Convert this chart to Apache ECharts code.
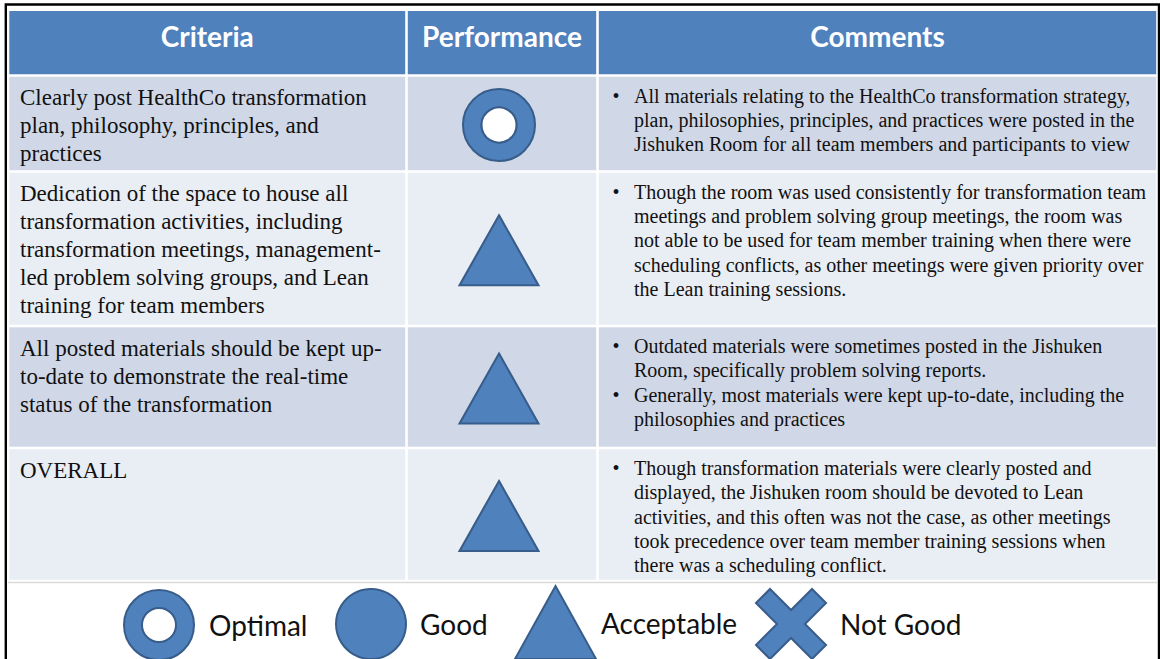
<!DOCTYPE html>
<html>
<head>
<meta charset="utf-8">
<script src="https://cdn.jsdelivr.net/npm/echarts@6/dist/echarts.min.js"></script>
<style>
html,body{margin:0;padding:0;background:#ffffff;}
#chart{width:1160px;height:659px;}
</style>
</head>
<body>
<div id="chart"></div>
<script>
// ---------- DATA ----------
const headers = ['Criteria', 'Performance', 'Comments'];

const criteria = [
  'Clearly post HealthCo transformation\nplan, philosophy, principles, and\npractices',
  'Dedication of the space to house all\ntransformation activities, including\ntransformation meetings, management-\nled problem solving groups, and Lean\ntraining for team members',
  'All posted materials should be kept up-\nto-date to demonstrate the real-time\nstatus of the transformation',
  'OVERALL'
];

const ratings = ['Optimal', 'Acceptable', 'Acceptable', 'Acceptable'];

const comments = [
  ['All materials relating to the HealthCo transformation strategy,\nplan, philosophies, principles, and practices were posted in the\nJishuken Room for all team members and participants to view'],
  ['Though the room was used consistently for transformation team\nmeetings and problem solving group meetings, the room was\nnot able to be used for team member training when there were\nscheduling conflicts, as other meetings were given priority over\nthe Lean training sessions.'],
  ['Outdated materials were sometimes posted in the Jishuken\nRoom, specifically problem solving reports.',
   'Generally, most materials were kept up-to-date, including the\nphilosophies and practices'],
  ['Though transformation materials were clearly posted and\ndisplayed, the Jishuken room should be devoted to Lean\nactivities, and this often was not the case, as other meetings\ntook precedence over team member training sessions when\nthere was a scheduling conflict.']
];

const legendLabels = ['Optimal', 'Good', 'Acceptable', 'Not Good'];

// ---------- LAYOUT / STYLE ----------
const W = 1160, H = 659;
const colEdges = [8, 406.5, 597.5, 1157.5];
const rowEdges = [9.7, 75.5, 171.5, 326, 448, 581];
const GAP = 1.3;
const headerColor = '#4F81BD';
const rowColors = ['#D0D8E8', '#E9EDF4'];
const symFill = '#4F81BD';
const symStroke = '#385D8A';
const serif = '"Liberation Serif", "Times New Roman", serif';
const sans = 'Lato, "Open Sans", sans-serif';

const ringPath = 'path://M50,0 A50,50 0 1 1 50,100 A50,50 0 1 1 50,0 Z M50,25.7 A24.3,24.3 0 1 0 50,74.3 A24.3,24.3 0 1 0 50,25.7 Z';
const triPath = 'path://M40.5,0 L81,73 L0,73 Z';
const crossPath = 'path://M0,20 L20,0 L50,30 L80,0 L100,20 L70,50 L100,80 L80,100 L50,70 L20,100 L0,80 L30,50 Z';
const iconFor = { 'Optimal': ringPath, 'Good': 'circle', 'Acceptable': triPath, 'Not Good': crossPath };
const tableSize = { 'Optimal': 72, 'Good': 72, 'Acceptable': [79, 70], 'Not Good': 72 };
// legend layout: left of icon box, icon box size, top, text padding
const legendLayout = {
  'Optimal':    { left: 123, w: 70, h: 70, top: 589, pad: 10 },
  'Good':       { left: 335, w: 70, h: 70, top: 588, pad: 9 },
  'Acceptable': { left: 514, w: 81, h: 73, top: 585, pad: 0 },
  'Not Good':   { left: 755, w: 70, h: 70, top: 588, pad: 9 }
};

const colCenter = c => (colEdges[c] + colEdges[c + 1]) / 2;
const rowCenter = r => (rowEdges[r] + rowEdges[r + 1]) / 2;

// cells: [col, row] (row 0 = header)
const cells = [];
for (let r = 0; r <= criteria.length; r++) {
  for (let c = 0; c < headers.length; c++) cells.push([c, r]);
}

function renderCell(params, api) {
  const c = api.value(0), r = api.value(1);
  const p0 = api.coord([colEdges[c], rowEdges[r]]);
  const p1 = api.coord([colEdges[c + 1], rowEdges[r + 1]]);
  const children = [{
    type: 'rect',
    shape: { x: p0[0] + GAP, y: p0[1] + GAP, width: p1[0] - p0[0] - 2 * GAP, height: p1[1] - p0[1] - 2 * GAP },
    style: { fill: r === 0 ? headerColor : rowColors[(r - 1) % 2] }
  }];
  if (r === 0) {
    children.push({
      type: 'text', x: (p0[0] + p1[0]) / 2, y: (p0[1] + p1[1]) / 2 - 6.5,
      style: { text: headers[c], fill: '#ffffff', fontFamily: sans, fontSize: 28, fontWeight: 'bold',
        align: 'center', verticalAlign: 'middle', textAlign: 'center', textVerticalAlign: 'middle' }
    });
  } else if (c === 0) {
    children.push({
      type: 'text', x: p0[0] + 12, y: p0[1] + 8,
      style: { text: criteria[r - 1], fill: '#111111', font: '23px ' + serif, lineHeight: 28,
        align: 'left', verticalAlign: 'top', textAlign: 'left', textVerticalAlign: 'top' }
    });
  } else if (c === 2) {
    const LH = 24.3;
    let line = 0;
    comments[r - 1].forEach(function (b) {
      const n = b.split('\n').length;
      const y = p0[1] + 8 + line * LH;
      children.push({
        type: 'text', x: p0[0] + 15, y: y,
        style: { text: '•', fill: '#111111', font: '20px ' + serif, lineHeight: LH,
          align: 'left', verticalAlign: 'top', textAlign: 'left', textVerticalAlign: 'top' }
      });
      children.push({
        type: 'text', x: p0[0] + 36.5, y: y,
        style: { text: b, fill: '#111111', font: '20px ' + serif, lineHeight: LH,
          align: 'left', verticalAlign: 'top', textAlign: 'left', textVerticalAlign: 'top' }
      });
      line += n;
    });
  }
  return { type: 'group', children: children };
}

const symbolSeries = legendLabels.map(function (name) {
  return {
    name: name,
    type: 'scatter',
    z: 5,
    symbol: iconFor[name],
    symbolSize: tableSize[name],
    symbolOffset: [-3, 1.5],
    itemStyle: { color: symFill, borderColor: symStroke, borderWidth: 2, opacity: 1 },
    emphasis: { disabled: true },
    data: ratings.map((rt, i) => rt === name ? [colCenter(1), rowCenter(i + 1)] : null).filter(d => d)
  };
});

const holeSeries = {
  name: 'OptimalHole',
  type: 'scatter',
  z: 6,
  symbol: 'circle',
  symbolSize: 35,
  symbolOffset: [-3, 1.5],
  itemStyle: { color: '#ffffff', borderColor: symStroke, borderWidth: 2, opacity: 1 },
  emphasis: { disabled: true },
  data: ratings.map((rt, i) => rt === 'Optimal' ? [colCenter(1), rowCenter(i + 1)] : null).filter(d => d)
};

const legends = legendLabels.map(function (name) {
  const L = legendLayout[name];
  return {
    show: true,
    selectedMode: false,
    left: L.left,
    top: L.top,
    padding: 0,
    itemWidth: L.w,
    itemHeight: L.h,
    data: [{ name: name, icon: iconFor[name] }],
    itemStyle: { color: symFill, borderColor: symStroke, borderWidth: 2 },
    textStyle: { fontFamily: sans, fontSize: 28, color: '#111111', padding: [0, 0, 0, L.pad] }
  };
});

const chart = echarts.init(document.getElementById('chart'), null, { renderer: 'svg', width: W, height: H });
chart.setOption({
  animation: false,
  backgroundColor: '#ffffff',
  grid: { left: 0, right: 0, top: 0, bottom: 0 },
  xAxis: { type: 'value', min: 0, max: W, show: false },
  yAxis: { type: 'value', min: 0, max: H, inverse: true, show: false },
  legend: legends,
  graphic: [
    { type: 'rect', silent: true, z: 10, shape: { x: 5.8, y: 4.5, width: 1153.2, height: 720 },
      style: { fill: null, stroke: '#000000', lineWidth: 2.4 } },
    { type: 'line', silent: true, z: 10, shape: { x1: 8, y1: 582.5, x2: 1157, y2: 582.5 },
      style: { stroke: '#D9D9D9', lineWidth: 1.5 } }
  ],
  series: [
    { type: 'custom', z: 1, silent: true, renderItem: renderCell, data: cells },
    ...symbolSeries,
    holeSeries
  ]
});
</script>
</body>
</html>
